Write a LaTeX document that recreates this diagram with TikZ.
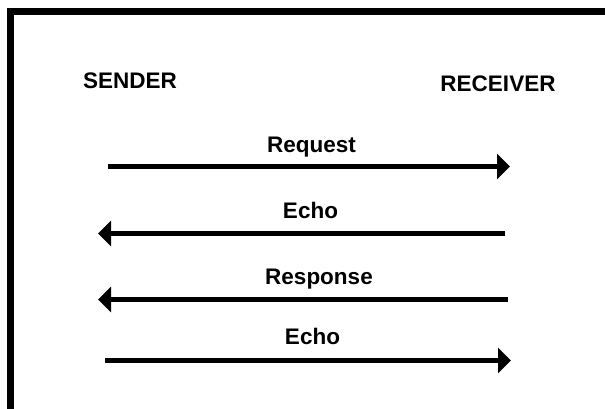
\documentclass[tikz,border=0pt]{standalone}
\usepackage{fontspec}
\setmainfont{Liberation Sans}
\usetikzlibrary{arrows.meta}
\begin{document}
\begin{tikzpicture}[x=1pt,y=1pt,
  lbl/.style={font=\fontsize{22.5}{26}\selectfont\bfseries, anchor=base, inner sep=0pt},
  msg/.style={line width=4.3pt, -{Triangle[length=13pt,width=25pt]}},
  frame/.style={line width=7pt, miter limit=10}]
\useasboundingbox (0,0) rectangle (605,-408);
\begin{scope}
\clip (0,0) rectangle (605,-408);
\draw[frame] (10,-420) -- (10,-11.5) -- (620,-11.5);
\end{scope}
\node[lbl] (sender) at (130,-88) {SENDER};
\node[lbl] (receiver) at (498,-91) {RECEIVER};
\node[lbl] (req) at (311.5,-152) {Request};
\node[lbl] (echo1) at (310.5,-218) {Echo};
\node[lbl] (resp) at (319,-284) {Response};
\node[lbl] (echo2) at (312.5,-344) {Echo};
\coordinate (a1) at (108,-166.5);
\coordinate (b1) at (510,-166.5);
\coordinate (a2) at (505,-233.5);
\coordinate (b2) at (98,-233.5);
\coordinate (a3) at (508,-299.5);
\coordinate (b3) at (98,-299.5);
\coordinate (a4) at (105,-360.5);
\coordinate (b4) at (511,-360.5);
\draw[msg] (a1) -- (b1);
\draw[msg] (a2) -- (b2);
\draw[msg] (a3) -- (b3);
\draw[msg] (a4) -- (b4);
\end{tikzpicture}
\end{document}
